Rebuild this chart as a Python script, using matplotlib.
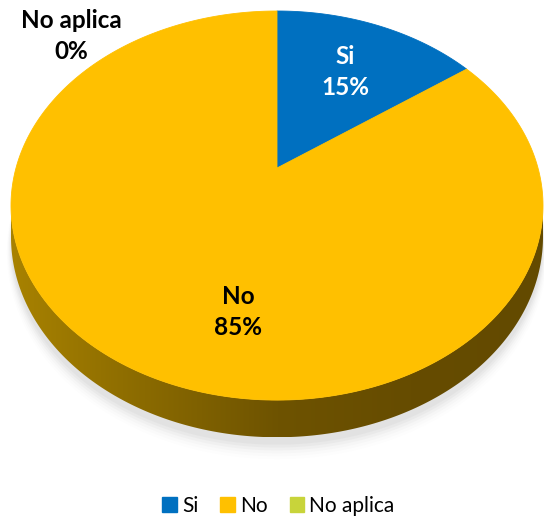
import numpy as np
import matplotlib
matplotlib.use("Agg")
import matplotlib.pyplot as plt
import matplotlib.patches as mpatches
from matplotlib.colors import LinearSegmentedColormap

# ── Data ─────────────────────────────────────────────────────────────────────
categories = ["Si", "No", "No aplica"]
values = [15, 85, 0]
pct_labels = ["15%", "85%", "0%"]
colors = ["#0070C0", "#FFC000", "#C8D43A"]

# ── Layout (pixel space of a 544x528 canvas) ────────────────────────────────
W, H = 544, 528
CX, CY = 277, 168          # apex of the slices on screen
RX, RY = 261, 187.3        # projective scale
K = 0.193                  # perspective strength
DEPTH = 30                 # thickness of the pie
label_pos = {"Si": (345, 72), "No": (238, 312), "No aplica": (71, 36)}
label_color = {"Si": "white", "No": "black", "No aplica": "black"}
FONT = ["Lato", "DejaVu Sans"]


def project(theta, r=1.0, drop=0.0):
    """theta measured clockwise from the back of the pie (12 o'clock)."""
    u = r * np.sin(theta)
    v = -r * np.cos(theta)
    d = 1 - K * v
    return CX + RX * u / d, CY + RY * v / d + drop / d


fig = plt.figure(figsize=(W / 100, H / 100), dpi=100)
ax = fig.add_axes([0, 0, 1, 1])
ax.set_xlim(0, W)
ax.set_ylim(H, 0)
ax.axis("off")

# soft shadow under the pie
t = np.linspace(0, 2 * np.pi, 400)
for i, a in enumerate(np.linspace(0.06, 0.015, 6)):
    sx, sy = project(t, 1.0 + 0.003 * i, DEPTH * 1.2 + i * 1.6)
    ax.fill(sx, sy, color="#808080", alpha=a, lw=0, zorder=1)

# side wall (front half, between the left and right extremes)
ts = np.linspace(0, 2 * np.pi, 2000)
xs, _ = project(ts)
i_r, i_l = np.argmax(xs), np.argmin(xs)
t_front = np.linspace(ts[i_r], ts[i_l], 400)
tx, ty = project(t_front)
bx, by = project(t_front[::-1], drop=DEPTH)
side_x = np.concatenate([tx, bx])
side_y = np.concatenate([ty, by])
side = mpatches.Polygon(np.column_stack([side_x, side_y]), closed=True,
                        facecolor="none", edgecolor="none", zorder=2)
ax.add_patch(side)
side_cmap = LinearSegmentedColormap.from_list(
    "side", ["#A88200", "#8A6A00", "#6E5300", "#664C00", "#634A00"])
grad = np.linspace(0, 1, 256)[None, :]
im = ax.imshow(grad, cmap=side_cmap, extent=[side_x.min(), side_x.max(),
               side_y.max(), side_y.min()], aspect="auto", zorder=2)
im.set_clip_path(side)

# top face wedges
total = sum(values)
start = 0.0
for cat, val, col in zip(categories, values, colors):
    frac = val / total
    if frac > 0:
        t = np.linspace(start, start + frac * 2 * np.pi, 300)
        wx, wy = project(t)
        px = np.concatenate([[CX], wx])
        py = np.concatenate([[CY], wy])
        ax.fill(px, py, color=col, lw=0.6, edgecolor=col, zorder=3)
    start += frac * 2 * np.pi

for cat, pct in zip(categories, pct_labels):
    x, y = label_pos[cat]
    ax.text(x, y, f"{cat}\n{pct}", ha="center", va="center", fontsize=17.5,
            fontweight="bold", color=label_color[cat], family=FONT,
            linespacing=1.4, zorder=4)

handles = [mpatches.Patch(color=c, label=l) for c, l in zip(colors, categories)]
fig.legend(handles=handles, loc="lower center", ncol=3, frameon=False,
           bbox_to_anchor=(0.512, -0.012), handlelength=0.7, handleheight=0.7,
           handletextpad=0.25, columnspacing=1.05,
           prop={"family": FONT, "size": 15})

fig.savefig("out.png", dpi=100)
